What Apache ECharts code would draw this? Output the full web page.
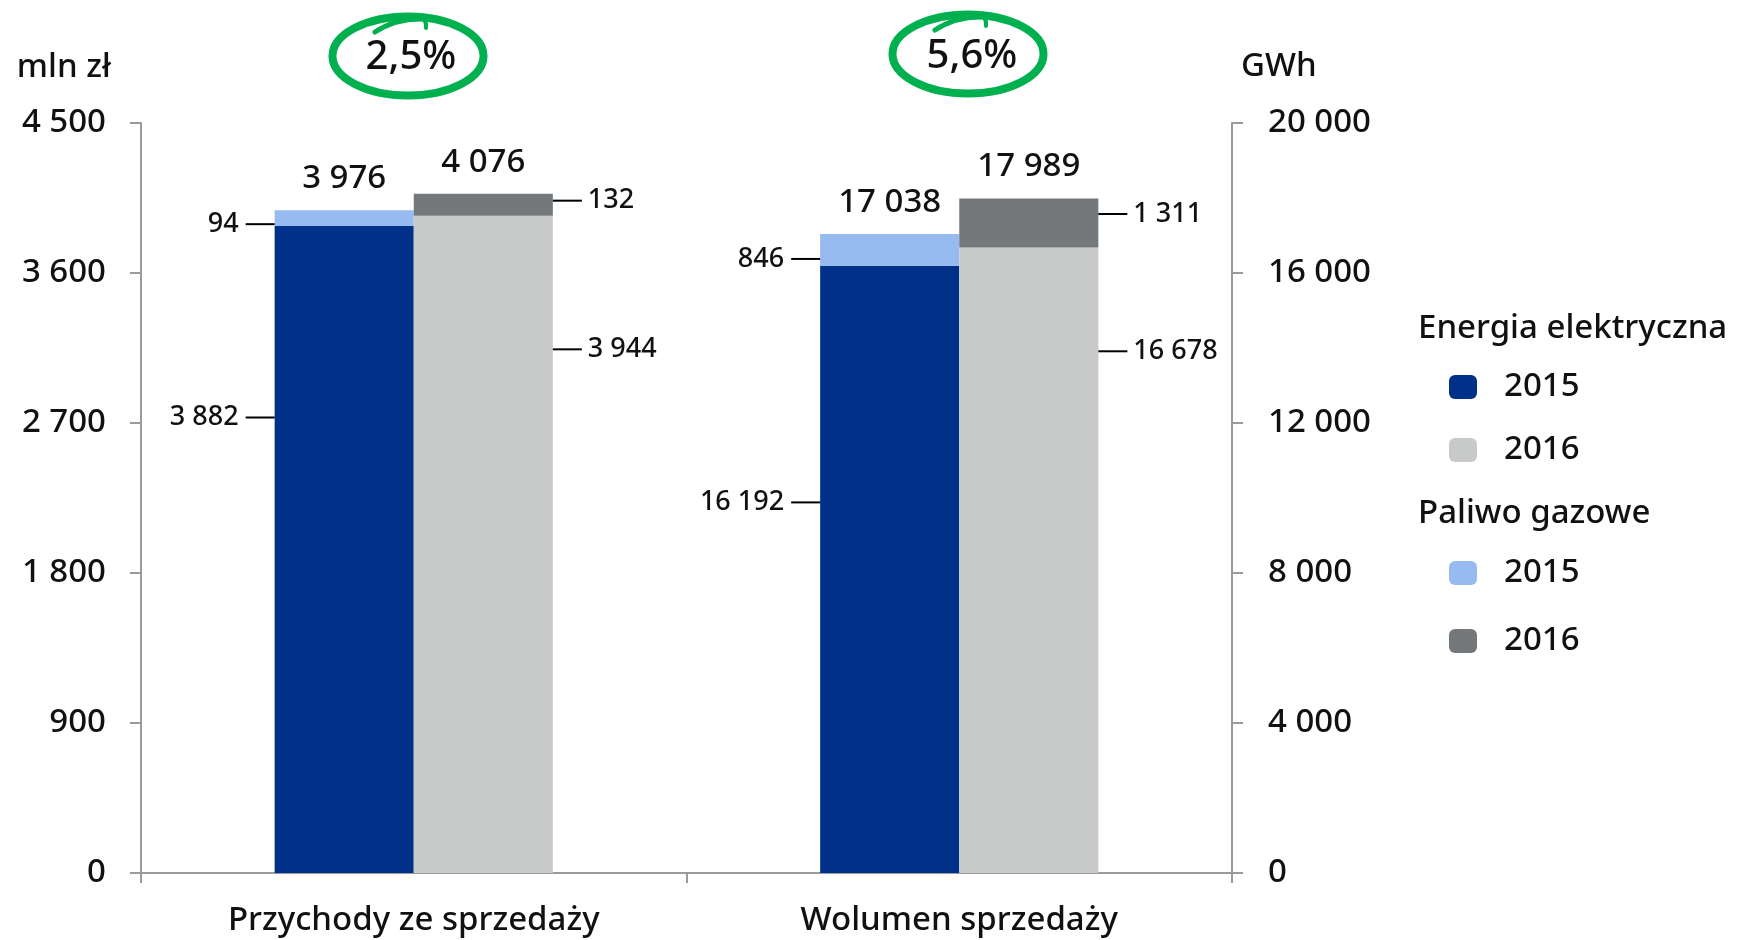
<!DOCTYPE html>
<html>
<head>
<meta charset="utf-8">
<script src="https://cdn.jsdelivr.net/npm/echarts@6/dist/echarts.min.js"></script>
<style>
  html, body { margin: 0; padding: 0; background: #ffffff; }
  #chart { width: 1737px; height: 940px; }
</style>
</head>
<body>
<div id="chart"></div>
<script>
// ---- data ----
const categories = ['Przychody ze sprzedaży', 'Wolumen sprzedaży'];
const energia2015 = [3882, 16192];
const energia2016 = [3944, 16678];
const paliwo2015 = [94, 846];
const paliwo2016 = [132, 1311];
const growthLabels = ['2,5%', '5,6%'];
const leftAxis = { name: 'mln zł', min: 0, max: 4500, interval: 900 };
const rightAxis = { name: 'GWh', min: 0, max: 20000, interval: 4000 };
const legendHeads = ['Energia elektryczna', 'Paliwo gazowe'];

// ---- style ----
const FONT = 'Noto Sans';
const FW = 500;
const C = { e2015: '#003087', e2016: '#c8cac9', g2015: '#97baf0', g2016: '#75787b', green: '#00b04f', axis: '#9a9a9a', text: '#111111' };
// vertical shifts of side labels (px), per category
const labelDy = { e2015: [-132, -67], g2015: [6, 9], e2016: [-195, -209], g2016: [-4, -9] };

function fmt(v) { return String(v).replace(/\B(?=(\d{3})+(?!\d))/g, ' '); }

const groups = [
  { year: '2015', elec: energia2015, gas: paliwo2015, eKey: 'e2015', gKey: 'g2015', side: 'left' },
  { year: '2016', elec: energia2016, gas: paliwo2016, eKey: 'e2016', gKey: 'g2016', side: 'right' }
];

function sideLabel(side, dy) {
  return {
    show: true,
    position: side,
    distance: 0,
    offset: [0, dy],
    formatter: function (p) {
      const t = fmt(p.value);
      return side === 'left' ? '{t|' + t + '}{l| }' : '{l| }{t|' + t + '}';
    },
    rich: {
      t: { fontFamily: FONT, fontWeight: FW, fontSize: 27, color: C.text, padding: side === 'left' ? [0, 7, 0, 0] : [0, 0, 0, 6] },
      l: { width: 29, height: 2, backgroundColor: '#000' }
    }
  };
}

function only(arr, c) { return arr.map(function (v, i) { return i === c ? v : '-'; }); }

const series = [];
for (let c = 0; c < categories.length; c++) {
  groups.forEach(function (g) {
    const common = { type: 'bar', stack: g.year, yAxisIndex: c, barWidth: '25.5%', barGap: '0%', emphasis: { disabled: true } };
    series.push(Object.assign({}, common, {
      name: legendHeads[0] + ' ' + g.year,
      data: only(g.elec, c),
      itemStyle: { color: C[g.eKey] },
      label: sideLabel(g.side, labelDy[g.eKey][c])
    }));
    series.push(Object.assign({}, common, {
      name: legendHeads[1] + ' ' + g.year,
      data: only(g.gas, c),
      itemStyle: { color: C[g.gKey] },
      label: sideLabel(g.side, labelDy[g.gKey][c])
    }));
    series.push(Object.assign({}, common, {
      name: 'suma ' + g.year,
      data: only([0, 0], c),
      itemStyle: { color: 'rgba(0,0,0,0)' },
      label: {
        show: true, position: 'top', distance: 15,
        fontFamily: FONT, fontWeight: FW, fontSize: 33, color: C.text,
        formatter: function (p) { return fmt(g.elec[p.dataIndex] + g.gas[p.dataIndex]); }
      }
    }));
  });
}

function yAxisOpt(ax, pos, labelMargin, nameStyle, nameGap) {
  return {
    type: 'value', position: pos, min: ax.min, max: ax.max, interval: ax.interval,
    name: ax.name, nameLocation: 'end', nameGap: nameGap,
    nameTextStyle: Object.assign({ fontFamily: FONT, fontWeight: FW, fontSize: 33, color: C.text, verticalAlign: 'middle' }, nameStyle),
    axisLine: { show: true, lineStyle: { color: C.axis, width: 2 } },
    axisTick: { show: true, length: 11, lineStyle: { color: C.axis, width: 2 } },
    axisLabel: { margin: labelMargin, fontFamily: FONT, fontWeight: FW, fontSize: 33, color: C.text, formatter: fmt },
    splitLine: { show: false }
  };
}

function legendOpt(names, top, gap) {
  return {
    data: names, orient: 'vertical', left: 1444, top: top, itemGap: gap,
    itemWidth: 28, itemHeight: 24, icon: 'roundRect',
    selectedMode: false,
    formatter: function (n) { return n.slice(-4); },
    textStyle: { fontFamily: FONT, fontWeight: FW, fontSize: 33, lineHeight: 34, color: C.text, padding: [0, 0, 0, 22] }
  };
}

function badge(cx, cy, tx, ty, text) {
  return {
    type: 'group', silent: true,
    children: [
      { type: 'ellipse', shape: { cx: cx, cy: cy, rx: 75.5, ry: 39.5 }, style: { fill: 'none', stroke: C.green, lineWidth: 8 } },
      { type: 'bezierCurve', shape: { x1: cx - 33, y1: cy - 24, cpx1: cx - 12, cpy1: cy - 38, x2: cx + 16, y2: cy - 37 }, style: { fill: 'none', stroke: C.green, lineWidth: 5, lineCap: 'round' } },
      { type: 'bezierCurve', shape: { x1: cx + 10, y1: cy - 39, cpx1: cx + 19, cpy1: cy - 38, x2: cx + 18, y2: cy - 28 }, style: { fill: 'none', stroke: C.green, lineWidth: 4, lineCap: 'round' } },
      { type: 'text', x: tx, y: ty, style: { text: text, fontFamily: FONT, fontWeight: FW, fontSize: 40, fill: C.text, align: 'center', verticalAlign: 'middle' } }
    ]
  };
}

const option = {
  animation: false,
  backgroundColor: '#ffffff',
  grid: { left: 141, right: 505, top: 123, bottom: 67, containLabel: false },
  xAxis: {
    type: 'category', data: categories,
    axisLine: { lineStyle: { color: C.axis, width: 2 } },
    axisTick: { show: true, length: 10, lineStyle: { color: C.axis, width: 2 } },
    axisLabel: { margin: 31, fontFamily: FONT, fontWeight: FW, fontSize: 33, color: C.text }
  },
  yAxis: [
    yAxisOpt(leftAxis, 'left', 35, { align: 'right', padding: [0, 30, 0, 0] }, 55),
    yAxisOpt(rightAxis, 'right', 36, { align: 'left', padding: [0, 0, 0, 9] }, 56)
  ],
  legend: [
    legendOpt([legendHeads[0] + ' 2015', legendHeads[0] + ' 2016'], 365, 29),
    legendOpt([legendHeads[1] + ' 2015', legendHeads[1] + ' 2016'], 551, 34)
  ],
  graphic: [
    { type: 'text', left: 1418, top: 334 - 22, silent: true, style: { text: legendHeads[0], fontFamily: FONT, fontWeight: FW, fontSize: 33, fill: C.text } },
    { type: 'text', left: 1418, top: 519 - 22, silent: true, style: { text: legendHeads[1], fontFamily: FONT, fontWeight: FW, fontSize: 33, fill: C.text } },
    badge(408, 56, 411, 58, growthLabels[0]),
    badge(968, 54, 972, 57, growthLabels[1])
  ],
  series: series
};

const chart = echarts.init(document.getElementById('chart'), null, { renderer: 'canvas' });
chart.setOption(option);
</script>
</body>
</html>
